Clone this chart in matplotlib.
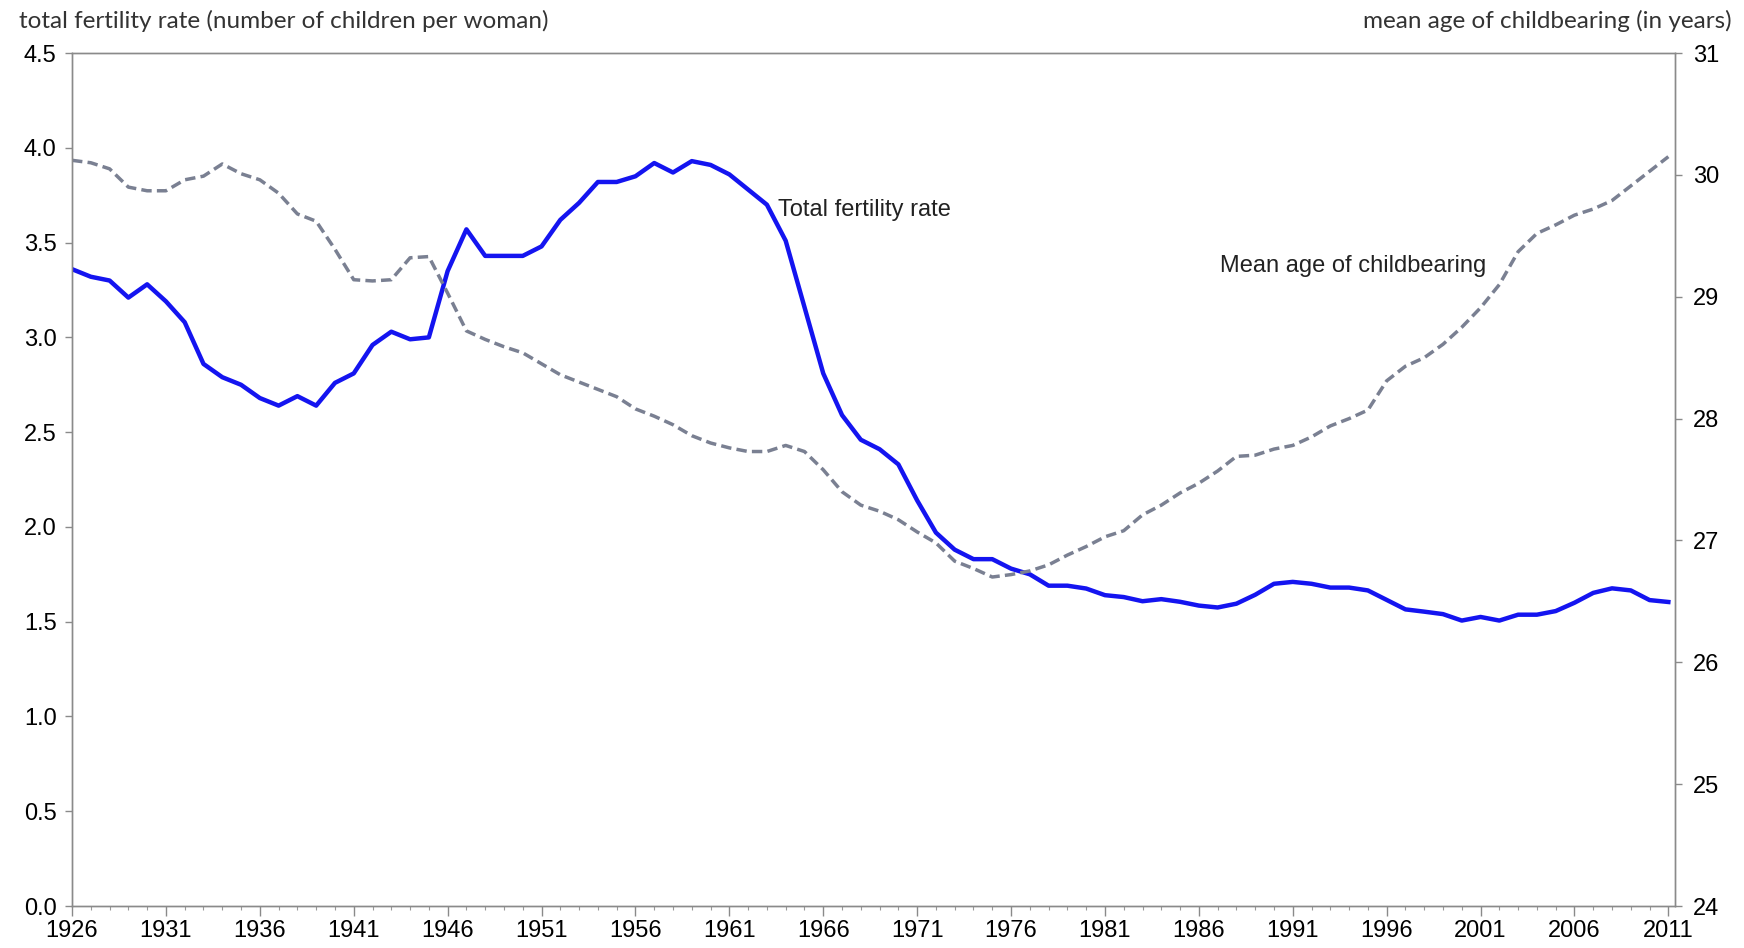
import matplotlib
matplotlib.use("Agg")
import matplotlib.pyplot as plt
from matplotlib.ticker import MultipleLocator

years = list(range(1926, 2012))

tfr = [3.36, 3.32, 3.30, 3.21, 3.28, 3.19, 3.08, 2.86, 2.79, 2.75,
       2.68, 2.64, 2.69, 2.64, 2.76, 2.81, 2.96, 3.03, 2.99, 3.00,
       3.35, 3.57, 3.43, 3.43, 3.43, 3.48, 3.62, 3.71, 3.82, 3.82,
       3.85, 3.92, 3.87, 3.93, 3.91, 3.86, 3.78, 3.70, 3.51, 3.16,
       2.81, 2.59, 2.46, 2.41, 2.33, 2.14, 1.97, 1.88, 1.83, 1.83,
       1.78, 1.75, 1.69, 1.69, 1.675, 1.64, 1.63, 1.608, 1.619, 1.605,
       1.585, 1.575, 1.595, 1.642, 1.70, 1.71, 1.70, 1.68, 1.68, 1.665,
       1.615, 1.565, 1.553, 1.54, 1.506, 1.525, 1.506, 1.537, 1.537, 1.556,
       1.60, 1.652, 1.676, 1.665, 1.614, 1.604]

mean_age = [30.12, 30.10, 30.05, 29.90, 29.87, 29.87, 29.96, 29.99, 30.09, 30.01,
            29.96, 29.85, 29.68, 29.62, 29.39, 29.14, 29.13, 29.14, 29.32, 29.33,
            29.03, 28.72, 28.65, 28.59, 28.54, 28.45, 28.36, 28.30, 28.24, 28.18,
            28.08, 28.02, 27.95, 27.86, 27.80, 27.76, 27.73, 27.73, 27.78, 27.73,
            27.58, 27.40, 27.29, 27.24, 27.17, 27.07, 26.98, 26.83, 26.77, 26.70,
            26.72, 26.75, 26.80, 26.88, 26.95, 27.03, 27.08, 27.21, 27.29, 27.39,
            27.47, 27.57, 27.69, 27.70, 27.75, 27.78, 27.85, 27.94, 28.00, 28.07,
            28.31, 28.43, 28.50, 28.61, 28.75, 28.91, 29.10, 29.37, 29.52, 29.59,
            29.67, 29.72, 29.79, 29.91, 30.03, 30.15]

xtick_years = list(range(1926, 2012, 5))

plt.rcParams['font.family'] = ['Liberation Sans', 'DejaVu Sans']

fig = plt.figure(figsize=(17.44, 9.48), dpi=100)
ax = fig.add_axes([0.0413, 0.0443, 0.9191, 0.8997])
ax2 = ax.twinx()

ax.plot(years, tfr, color='#1414f0', lw=3.2, solid_joinstyle='round', zorder=3)
ax2.plot(years, mean_age, color='#7a8092', lw=2.5, dashes=(3.0, 1.5), zorder=2)

ax.set_xlim(1926, 2011.35)
ax.set_ylim(0, 4.5)
ax2.set_ylim(24, 31)

ax.set_xticks(xtick_years)
ax.xaxis.set_minor_locator(MultipleLocator(1))
ax.yaxis.set_major_locator(MultipleLocator(0.5))
ax.yaxis.set_major_formatter(plt.FormatStrFormatter('%.1f'))
ax2.yaxis.set_major_locator(MultipleLocator(1))

for a in (ax, ax2):
    for s in a.spines.values():
        s.set_color('#8a8a8a')
        s.set_linewidth(1.0)
        s.set_linestyle((0, (1, 1)))

ax.tick_params(axis='x', which='major', direction='out', length=7, width=1,
               color='#8a8a8a', labelsize=17, pad=3)
ax.tick_params(axis='x', which='minor', direction='out', length=3, width=0.8,
               color='#9a9a9a')
ax.tick_params(axis='y', direction='out', length=5, width=1, color='#8a8a8a',
               labelsize=17, pad=6)
ax2.tick_params(axis='y', direction='out', length=5, width=1, color='#8a8a8a',
                labelsize=17, pad=8)

ax.text(1963.6, 3.67, 'Total fertility rate', fontsize=17, color='#222222',
        va='center', ha='left')
ax2.text(1987.1, 29.25, 'Mean age of childbearing', fontsize=17, color='#222222',
         va='center', ha='left')

fig.text(0.011, 0.978, 'total fertility rate (number of children per woman)',
         fontsize=17.5, family=['Lato', 'DejaVu Sans'], color='#333333', va='center', ha='left')
fig.text(0.993, 0.978, 'mean age of childbearing (in years)',
         fontsize=17.5, family=['Lato', 'DejaVu Sans'], color='#333333', va='center', ha='right')

fig.savefig('out.png', dpi=100)
